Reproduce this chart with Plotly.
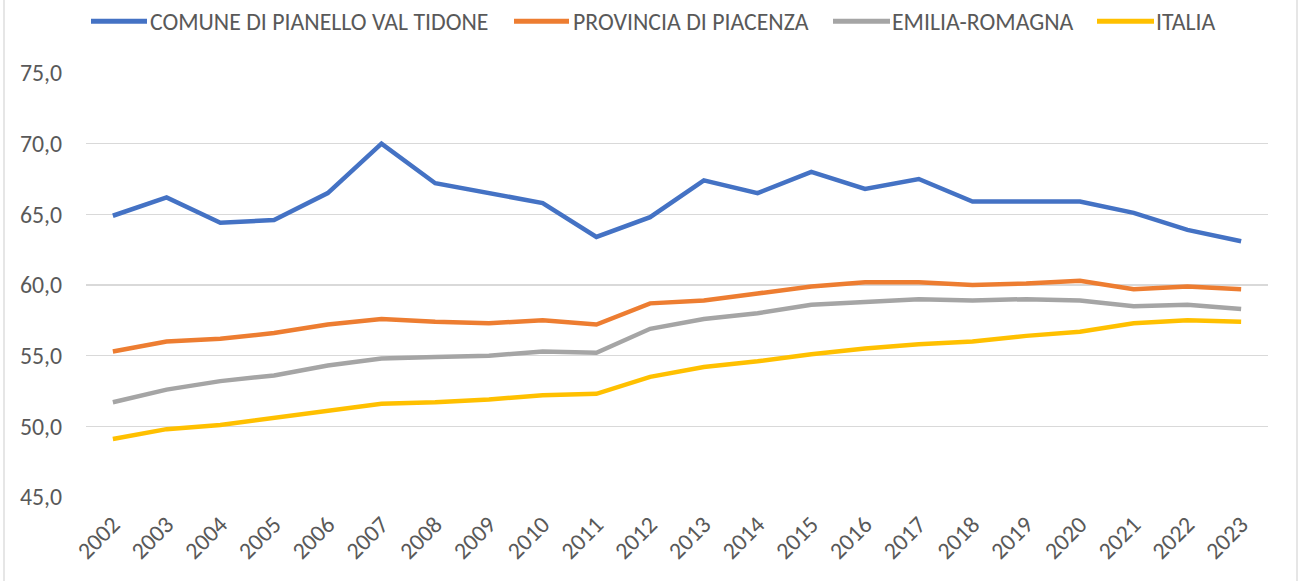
import plotly.graph_objects as go

years = [str(y) for y in range(2002, 2024)]

comune = [64.9, 66.2, 64.4, 64.6, 66.5, 70.0, 67.2, 66.5, 65.8, 63.4, 64.8,
          67.4, 66.5, 68.0, 66.8, 67.5, 65.9, 65.9, 65.9, 65.1, 63.9, 63.1]
provincia = [55.3, 56.0, 56.2, 56.6, 57.2, 57.6, 57.4, 57.3, 57.5, 57.2, 58.7,
             58.9, 59.4, 59.9, 60.2, 60.2, 60.0, 60.1, 60.3, 59.7, 59.9, 59.7]
emilia = [51.7, 52.6, 53.2, 53.6, 54.3, 54.8, 54.9, 55.0, 55.3, 55.2, 56.9,
          57.6, 58.0, 58.6, 58.8, 59.0, 58.9, 59.0, 58.9, 58.5, 58.6, 58.3]
italia = [49.1, 49.8, 50.1, 50.6, 51.1, 51.6, 51.7, 51.9, 52.2, 52.3, 53.5,
          54.2, 54.6, 55.1, 55.5, 55.8, 56.0, 56.4, 56.7, 57.3, 57.5, 57.4]

series_names = ["COMUNE DI PIANELLO VAL TIDONE", "PROVINCIA DI PIACENZA",
                "EMILIA-ROMAGNA", "ITALIA"]
series_values = [comune, provincia, emilia, italia]
colors = ["#4472C4", "#ED7D31", "#A5A5A5", "#FFC000"]

FONT = "Calibri, Carlito, 'Liberation Sans Narrow', 'Noto Sans', sans-serif"
FS = 23.8
TXT = "#595959"

fig = go.Figure()
for name, vals, col in zip(series_names, series_values, colors):
    fig.add_trace(go.Scatter(x=years, y=vals, mode="lines", name=name,
                             line=dict(color=col, width=4.5), showlegend=False))

# body margin is removed by post_script, so figure coords = viewport coords
W, H = 1299, 581
L, R, T, B = 86, 31, 72.5, 83.7
pw = W - L - R
ph = H - T - B


def px(x):
    return (x - L) / pw


def py(y):
    return 1 - (y - T) / ph


fig.update_layout(
    width=W, height=H,
    margin=dict(l=L, r=R, t=T, b=B, autoexpand=False),
    paper_bgcolor="white", plot_bgcolor="white",
    separators=",.",
    font=dict(family=FONT, color=TXT, size=FS),
    showlegend=False,
    xaxis=dict(type="category", range=[-0.5, 21.5], showgrid=False,
               tickangle=-45, ticks="", showline=False, zeroline=False,
               automargin=False, ticklabelstandoff=8,
               tickfont=dict(size=FS, color=TXT)),
    yaxis=dict(range=[45, 75], dtick=5, tickformat=".1f", showgrid=True,
               gridcolor="#D9D9D9", gridwidth=1.3, zeroline=False, showline=False,
               ticks="", ticklabelstandoff=23, automargin=False,
               tickfont=dict(size=FS, color=TXT)),
)

# manual legend (layout only)
legend_lines = [(91, 147), (514, 569), (833, 890), (1097, 1154)]
legend_text_x = [151, 574, 893, 1157]
legend_y = 20.7
for (x0, x1), tx, name, col in zip(legend_lines, legend_text_x, series_names, colors):
    fig.add_shape(type="line", xref="paper", yref="paper",
                  x0=px(x0), x1=px(x1), y0=py(legend_y), y1=py(legend_y),
                  line=dict(color=col, width=5))
    fig.add_annotation(xref="paper", yref="paper", x=px(tx - 3), y=py(legend_y),
                       text=name, showarrow=False, xanchor="left", yanchor="middle",
                       font=dict(family=FONT, size=FS, color=TXT))

# chart border (left and right edges visible)
fig.add_shape(type="rect", xref="paper", yref="paper",
              x0=px(4), x1=px(1297),
              y0=py(H + 40), y1=py(-40),
              line=dict(color="#D9D9D9", width=1.3), layer="below")

fig.write_html("out.html",
               config={"displayModeBar": False, "staticPlot": True},
               post_script="document.body.style.margin='0';document.body.style.overflow='hidden';")
